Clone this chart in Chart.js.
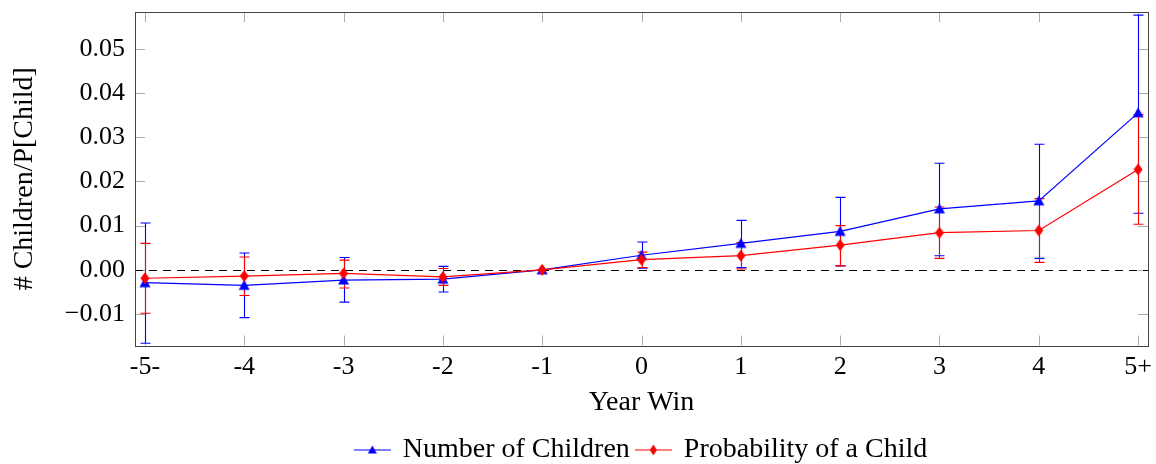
<!DOCTYPE html>
<html>
<head>
<meta charset="utf-8">
<script src="https://cdn.jsdelivr.net/npm/chart.js@4"></script>
<style>
  html, body { margin: 0; padding: 0; background: #fff; }
</style>
</head>
<body>
<canvas id="myChart" width="1156" height="464"></canvas>
<script>
// Years relative to the win, and the labels printed under the axis
const years = [-5, -4, -3, -2, -1, 0, 1, 2, 3, 4, 5];
const yearLabels = ["-5-", "-4", "-3", "-2", "-1", "0", "1", "2", "3", "4", "5+"];

// Number of Children: estimate, lower and upper end of the error bar
const kidsValue = [-0.0029, -0.0035, -0.0023, -0.0021, 0, 0.0033, 0.0060, 0.0087, 0.0138, 0.0156, 0.0355];
const kidsLow = [-0.0166, -0.0108, -0.0073, -0.0050, 0, 0.0004, 0.0005, 0.0009, 0.0032, 0.0026, 0.0128];
const kidsHigh = [0.0106, 0.0038, 0.0028, 0.0008, 0, 0.0063, 0.0112, 0.0164, 0.0241, 0.0284, 0.0576];

// Probability of a Child
const probValue = [-0.0019, -0.0014, -0.0008, -0.0016, 0, 0.0023, 0.0032, 0.0056, 0.0084, 0.0089, 0.0227];
const probLow = [-0.0098, -0.0058, -0.0041, -0.0035, 0, 0.0005, 0.0002, 0.0009, 0.0026, 0.0017, 0.0103];
const probHigh = [0.0060, 0.0029, 0.0022, 0.0003, 0, 0.0040, 0.0062, 0.0100, 0.0142, 0.0161, 0.0351];

const yTicks = [-0.01, 0, 0.01, 0.02, 0.03, 0.04, 0.05];
const yTickLabels = ["\u22120.01", "0.00", "0.01", "0.02", "0.03", "0.04", "0.05"];

const errors = [[kidsLow, kidsHigh], [probLow, probHigh]];

const FONT = "'Liberation Serif', 'Times New Roman', serif";
const BLUE = "#0000ff";
const RED = "#ff0000";

// small canvases used as point styles (marker, optionally with a line for the legend)
function makeMarker(shape, color, w, h, mw, mh, withLine) {
  const c = document.createElement("canvas");
  c.width = w;
  c.height = h;
  const g = c.getContext("2d");
  const cx = w / 2, cy = h / 2;
  if (withLine) {
    g.strokeStyle = color;
    g.lineWidth = 1.2;
    g.beginPath();
    g.moveTo(0, cy);
    g.lineTo(w, cy);
    g.stroke();
  }
  g.fillStyle = color;
  g.beginPath();
  if (shape === "tri") {
    g.moveTo(cx, cy - mh * 0.55);
    g.lineTo(cx + mw / 2, cy + mh * 0.45);
    g.lineTo(cx - mw / 2, cy + mh * 0.45);
  } else {
    g.moveTo(cx, cy - mh / 2);
    g.lineTo(cx + mw / 2, cy);
    g.lineTo(cx, cy + mh / 2);
    g.lineTo(cx - mw / 2, cy);
  }
  g.closePath();
  g.fill();
  return c;
}

const triPoint = makeMarker("tri", BLUE, 12, 12, 11, 10, false);
const diaPoint = makeMarker("dia", RED, 10, 14, 9, 12, false);
const legendIcons = [
  makeMarker("tri", BLUE, 37, 14, 9, 8, true),
  makeMarker("dia", RED, 37, 14, 7, 11, true)
];

const pts = (vals) => years.map((x, i) => ({ x: x, y: vals[i] }));

// zero line, error bars, inward ticks and the box around the plot
const decorations = {
  id: "decorations",
  beforeDatasetsDraw(chart) {
    const { ctx, chartArea: a, scales: { x, y } } = chart;
    ctx.save();

    ctx.strokeStyle = "#aaaaaa";
    ctx.lineWidth = 1;
    ctx.beginPath();
    x.ticks.forEach(t => {
      const px = Math.round(x.getPixelForValue(t.value)) + 0.5;
      ctx.moveTo(px, a.bottom); ctx.lineTo(px, a.bottom - 10);
      ctx.moveTo(px, a.top); ctx.lineTo(px, a.top + 10);
    });
    y.ticks.forEach(t => {
      const py = Math.round(y.getPixelForValue(t.value)) + 0.5;
      ctx.moveTo(a.left, py); ctx.lineTo(a.left + 10, py);
      ctx.moveTo(a.right, py); ctx.lineTo(a.right - 10, py);
    });
    ctx.stroke();

    const y0 = Math.round(y.getPixelForValue(0)) + 0.5;
    ctx.strokeStyle = "#000";
    ctx.setLineDash([8, 6]);
    ctx.beginPath();
    ctx.moveTo(a.left, y0);
    ctx.lineTo(a.right, y0);
    ctx.stroke();
    ctx.setLineDash([]);

    chart.data.datasets.forEach((ds, d) => {
      const [lo, hi] = errors[d];
      ctx.strokeStyle = ds.borderColor;
      ctx.lineWidth = 1.1;
      ds.data.forEach((p, i) => {
        if (lo[i] === hi[i]) return;
        const px = Math.round(x.getPixelForValue(p.x)) + 0.5;
        const pl = y.getPixelForValue(lo[i]);
        const ph = y.getPixelForValue(hi[i]);
        ctx.beginPath();
        ctx.moveTo(px, pl); ctx.lineTo(px, ph);
        ctx.moveTo(px - 5, pl); ctx.lineTo(px + 5, pl);
        ctx.moveTo(px - 5, ph); ctx.lineTo(px + 5, ph);
        ctx.stroke();
      });
    });
    ctx.restore();
  },
  afterDraw(chart) {
    const { ctx, chartArea: a } = chart;
    ctx.save();
    ctx.strokeStyle = "#444";
    ctx.lineWidth = 1;
    ctx.strokeRect(Math.round(a.left) + 0.5, Math.round(a.top) + 0.5,
      Math.round(a.right - a.left), Math.round(a.bottom - a.top));
    ctx.restore();
  }
};

const ctx = document.getElementById("myChart").getContext("2d");

new Chart(ctx, {
  type: "line",
  data: {
    datasets: [
      {
        label: "Number of Children",
        data: pts(kidsValue),
        borderColor: BLUE,
        backgroundColor: BLUE,
        borderWidth: 1.2,
        pointStyle: triPoint,
        pointRadius: 5,
        tension: 0,
        order: 1,
      },
      {
        label: "Probability of a Child",
        data: pts(probValue),
        borderColor: RED,
        backgroundColor: RED,
        borderWidth: 1.2,
        pointStyle: diaPoint,
        pointRadius: 5,
        tension: 0,
        order: 0,
      },
    ],
  },
  options: {
    responsive: false,
    animation: false,
    layout: {
      padding: { top: 12, right: 8, left: 0, bottom: -10 },
    },
    plugins: {
      tooltip: { enabled: false },
      legend: {
        position: "bottom",
        fullSize: false,
        labels: {
          font: { family: FONT, size: 28 },
          color: "#000",
          usePointStyle: true,
          pointStyleWidth: 33,
          padding: 7,
          sort: (a, b) => a.datasetIndex - b.datasetIndex,
          generateLabels(chart) {
            const items = Chart.defaults.plugins.legend.labels.generateLabels(chart);
            items.forEach(it => { it.pointStyle = legendIcons[it.datasetIndex]; });
            return items;
          },
        },
      },
    },
    scales: {
      x: {
        type: "linear",
        min: -5.1,
        max: 5.1,
        afterBuildTicks: s => { s.ticks = years.map(v => ({ value: v })); },
        afterFit: s => { s.height = 83.5; s.paddingRight = 0; s.paddingLeft = 0; },
        grid: { display: false, drawTicks: false },
        border: { display: false },
        ticks: {
          color: "#000",
          font: { family: FONT, size: 26 },
          padding: 6,
          maxRotation: 0,
          autoSkip: false,
          callback: v => yearLabels[years.indexOf(v)],
        },
        title: {
          display: true,
          text: "Year Win",
          color: "#000",
          font: { family: FONT, size: 28 },
          padding: { top: 0, bottom: 10 },
        },
      },
      y: {
        min: -0.0171,
        max: 0.0583,
        afterBuildTicks: s => { s.ticks = yTicks.map(v => ({ value: v })); },
        afterFit: s => { s.width = 135; s.paddingTop = 0; s.paddingBottom = 0; },
        grid: { display: false, drawTicks: false },
        border: { display: false },
        ticks: {
          color: "#000",
          font: { family: FONT, size: 26 },
          padding: 10,
          callback: v => yTickLabels[yTicks.indexOf(v)],
        },
        title: {
          display: true,
          text: "# Children/P[Child]",
          color: "#000",
          font: { family: FONT, size: 28 },
          padding: { top: 8, bottom: 0 },
        },
      },
    },
  },
  plugins: [decorations],
});
</script>
</body>
</html>
